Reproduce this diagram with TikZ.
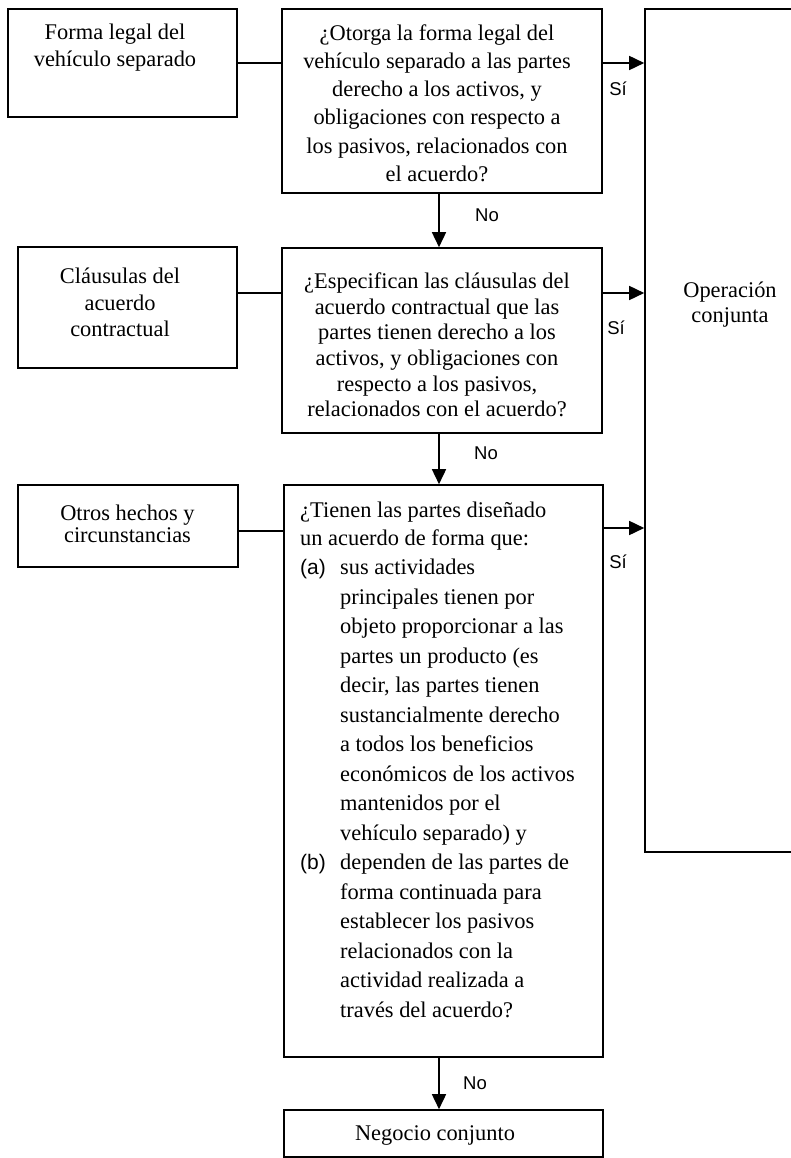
\documentclass[tikz,border=0pt]{standalone}
\usepackage{fontspec}
\setmainfont{Liberation Serif}
\newfontfamily\sansf{Liberation Sans}
\usetikzlibrary{arrows.meta,calc}
\begin{document}
\begin{tikzpicture}[x=1pt,y=-1pt,
  box/.style={draw, line width=1.6pt, rectangle, inner sep=0pt},
  txt/.style={inner sep=0pt, align=center},
  lbl/.style={inner sep=0pt, font=\sansf\fontsize{18.5}{20}\selectfont},
  conn/.style={line width=1.6pt},
  arr/.style={line width=1.6pt, -{Triangle[length=15pt,width=14pt]}}]
\useasboundingbox (0,0) rectangle (791,1158);

% boxes
\node[box, minimum width=229pt, minimum height=108pt] (b1) at (122.5,63) {};
\node[box, minimum width=320pt, minimum height=184pt] (q1) at (442,101) {};
\node[box, minimum width=165pt, minimum height=843pt] (op) at (727.5,430.5) {};
\node[box, minimum width=219pt, minimum height=121pt] (b2) at (127.5,307.5) {};
\node[box, minimum width=320pt, minimum height=185pt] (q2) at (442,340.5) {};
\node[box, minimum width=220pt, minimum height=82pt] (b3) at (128,526) {};
\node[box, minimum width=319pt, minimum height=572pt] (q3) at (443.5,771) {};
\node[box, minimum width=319pt, minimum height=47pt] (nc) at (443.5,1133.5) {};

% texts
\node[txt, font=\fontsize{22.4}{27}\selectfont] (b1t) at (115,47.5)
  {Forma legal del\\vehículo separado};
\node[txt, font=\fontsize{22.4}{28.2}\selectfont] (q1t) at (437,103)
  {¿Otorga la forma legal del\\vehículo separado a las partes\\derecho a los activos, y\\obligaciones con respecto a\\los pasivos, relacionados con\\el acuerdo?};
\node[txt, font=\fontsize{22.4}{26.5}\selectfont] (b2t) at (120,302.5)
  {Cláusulas del\\acuerdo\\contractual};
\node[txt, font=\fontsize{22.4}{25.6}\selectfont] (q2t) at (437,345)
  {¿Especifican las cláusulas del\\acuerdo contractual que las\\partes tienen derecho a los\\activos, y obligaciones con\\respecto a los pasivos,\\relacionados con el acuerdo?};
\node[txt, font=\fontsize{22.4}{22.5}\selectfont] (b3t) at (127.5,524)
  {Otros hechos y\\circunstancias};
\node[txt, font=\fontsize{22.4}{25}\selectfont] (opt) at (730,305)
  {Operación\\conjunta};
\node[txt, font=\fontsize{22.4}{26}\selectfont] (nct) at (435,1135)
  {Negocio conjunto};
\node[inner sep=0pt, align=left, anchor=north west, font=\fontsize{22.4}{29.5}\selectfont] (q3t) at (300,496.3)
  {\strut¿Tienen las partes diseñado\\[-1.5pt]
   un acuerdo de forma que:\\
   \makebox[40pt][l]{\sansf\fontsize{21}{29.5}\selectfont(a)}sus actividades\\
   \hspace*{40pt}principales tienen por\\
   \hspace*{40pt}objeto proporcionar a las\\
   \hspace*{40pt}partes un producto (es\\
   \hspace*{40pt}decir, las partes tienen\\
   \hspace*{40pt}sustancialmente derecho\\
   \hspace*{40pt}a todos los beneficios\\
   \hspace*{40pt}económicos de los activos\\
   \hspace*{40pt}mantenidos por el\\
   \hspace*{40pt}vehículo separado) y\\
   \makebox[40pt][l]{\sansf\fontsize{21}{29.5}\selectfont(b)}dependen de las partes de\\
   \hspace*{40pt}forma continuada para\\
   \hspace*{40pt}establecer los pasivos\\
   \hspace*{40pt}relacionados con la\\
   \hspace*{40pt}actividad realizada a\\
   \hspace*{40pt}través del acuerdo?};

% helper coordinates
\coordinate (r2) at (0,293);
\coordinate (r3) at (0,531);
\coordinate (r3b) at (0,528);
\coordinate (ax) at (439,0);

% connectors
\draw[conn] (b1.east) -- (b1.east -| q1.west);
\draw[arr] (b1.east -| q1.east) -- (b1.east -| op.west);
\draw[conn] (r2 -| b2.east) -- (r2 -| q2.west);
\draw[arr] (r2 -| q2.east) -- (r2 -| op.west);
\draw[conn] (r3 -| b3.east) -- (r3 -| q3.west);
\draw[arr] (r3b -| q3.east) -- (r3b -| op.west);
\draw[arr] (ax |- q1.south) -- (ax |- q2.north);
\draw[arr] (ax |- q2.south) -- (ax |- q3.north);
\draw[arr] (ax |- q3.south) -- (ax |- nc.north);

% labels
\node[lbl] (si1) at (618,89) {Sí};
\node[lbl] (si2) at (616,328) {Sí};
\node[lbl] (si3) at (618,562) {Sí};
\node[lbl] (no1) at (487,215) {No};
\node[lbl] (no2) at (486,453) {No};
\node[lbl] (no3) at (475,1083) {No};
\end{tikzpicture}
\end{document}
